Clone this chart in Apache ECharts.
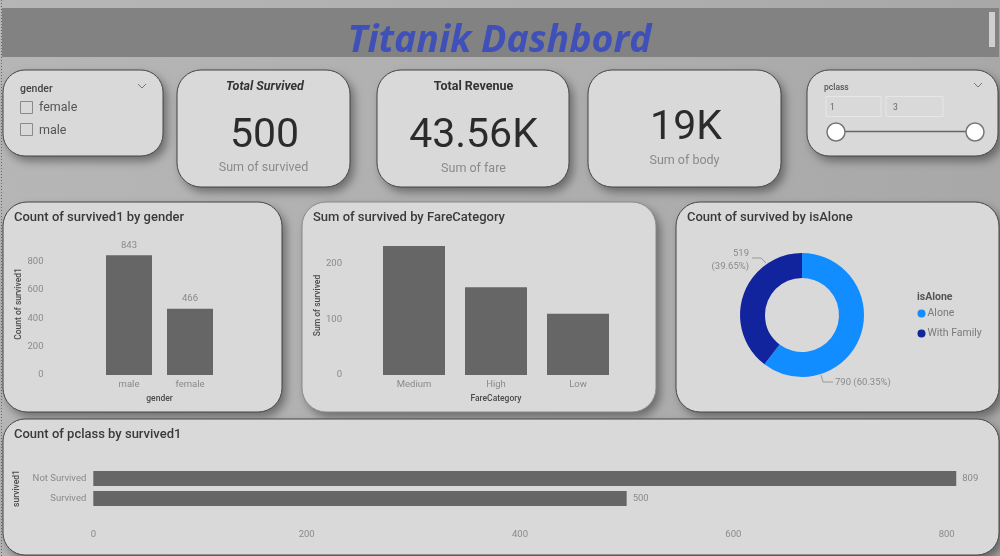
<!DOCTYPE html>
<html>
<head>
<meta charset="utf-8">
<style>
  html, body { margin: 0; padding: 0; background: #aaa; }
  #main { width: 1000px; height: 556px; }
</style>
<script src="https://cdn.jsdelivr.net/npm/echarts@6/dist/echarts.min.js"></script>
</head>
<body>
<div id="main"></div>
<script>
// chart data
const genderCats = ['male', 'female'];
const genderVals = [843, 466];
const fareCats = ['Medium', 'High', 'Low'];
const fareVals = [232, 158, 110];
const aloneCats = ['Alone', 'With Family'];
const aloneVals = [790, 519];
const aloneColors = ['#118dff', '#12239e'];
const pclassCats = ['Not Survived', 'Survived'];
const pclassVals = [809, 500];

const FONT = 'Roboto';
const axisGrey = '#8a8a8a';
const nameGrey = '#4a4a4a';
const titleGrey = '#3a3a3a';
const barGrey = '#666666';

var chart = echarts.init(document.getElementById('main'), null, { renderer: 'canvas' });

// shadow goes on its own rect, otherwise the stroke throws it over the fill
function card(x, y, w, h, r, stroke) {
    return [{
        type: 'rect',
        shape: { x: x, y: y, width: w, height: h, r: r },
        style: {
            fill: '#d9d9d9',
            shadowBlur: 10,
            shadowOffsetX: 4,
            shadowOffsetY: 5,
            shadowColor: 'rgba(0,0,0,0.4)'
        }
    }, {
        type: 'rect',
        shape: { x: x, y: y, width: w, height: h, r: r },
        style: { fill: '#d9d9d9', stroke: stroke || '#444444', lineWidth: 1 }
    }];
}

function label(text, x, y, size, color, extra) {
    return {
        type: 'text',
        z: 5,
        style: Object.assign({
            text: text,
            x: x,
            y: y,
            fontFamily: FONT,
            fontSize: size,
            fill: color,
            align: 'left',
            verticalAlign: 'middle'
        }, extra || {})
    };
}

function chevron(x, y) {
    return {
        type: 'polyline',
        z: 5,
        shape: { points: [[x - 4, y - 2], [x, y + 2], [x + 4, y - 2]] },
        style: { stroke: '#777777', lineWidth: 1, fill: 'none' }
    };
}

function box(x, y, w, h, stroke) {
    return {
        type: 'rect',
        z: 5,
        shape: { x: x, y: y, width: w, height: h },
        style: { fill: 'none', stroke: stroke, lineWidth: 1 }
    };
}

function knob(x, y) {
    return {
        type: 'circle',
        z: 6,
        shape: { cx: x, cy: y, r: 9 },
        style: { fill: '#ffffff', stroke: '#777777', lineWidth: 1.5 }
    };
}

var graphics = [
    // page background and header band
    { type: 'rect', shape: { x: 0, y: 0, width: 1000, height: 556 },
      style: { fill: new echarts.graphic.LinearGradient(0, 0, 1, 0, [
          { offset: 0, color: '#b6b6b6' }, { offset: 1, color: '#a8a8a8' }]) } },
    { type: 'rect', shape: { x: 2, y: 8, width: 997, height: 49 }, style: { fill: '#828282' } },
    { type: 'rect', shape: { x: 989, y: 12, width: 6, height: 35 }, style: { fill: '#cfcfcf' } },
    { type: 'line', shape: { x1: 1.5, y1: 0, x2: 1.5, y2: 556 },
      style: { stroke: '#666666', lineWidth: 1, lineDash: [1, 2] }, z: 7 },
    label('Titanik Dashbord', 499.5, 41, 37.5, '#3f51b8',
        { align: 'center', fontFamily: 'Open Sans', fontWeight: 'bold', fontStyle: 'italic' })
].concat(
    card(3, 70, 160, 86, 22),
    card(177, 70, 173, 117, 24),
    card(377, 70, 192, 117, 24),
    card(588, 70, 193, 117, 24),
    card(807, 70, 191, 86, 22),
    card(3, 202, 279, 210, 24),
    card(302, 202, 354, 210, 24, '#888888'),
    card(676, 202, 323, 210, 24),
    card(3, 419, 996, 136, 22),
[
    // gender slicer
    label('gender', 20, 89, 10.5, '#444444', { fontWeight: 500 }),
    chevron(142, 86),
    box(20.5, 101.5, 12, 12, '#8a8a8a'),
    box(20.5, 123.5, 12, 12, '#8a8a8a'),
    label('female', 39, 108, 12.5, '#555555'),
    label('male', 39, 131, 12.5, '#555555'),

    // KPI cards
    label('Total Survived', 265, 87, 12.5, '#333333', { align: 'center', fontWeight: 'bold', fontStyle: 'italic' }),
    label('500', 264.5, 137, 41, '#2b2b2b', { align: 'center' }),
    label('Sum of survived', 263.5, 167.5, 12.5, '#8a8a8a', { align: 'center' }),
    label('Total Revenue', 473.5, 87, 12.5, '#333333', { align: 'center', fontWeight: 'bold' }),
    label('43.56K', 473.5, 137, 41, '#2b2b2b', { align: 'center' }),
    label('Sum of fare', 473.5, 168.5, 12.5, '#8a8a8a', { align: 'center' }),
    label('19K', 686, 129, 41, '#2b2b2b', { align: 'center' }),
    label('Sum of body', 684.5, 160.5, 12.5, '#8a8a8a', { align: 'center' }),

    // pclass slicer
    label('pclass', 824, 88, 8.5, '#555555', { fontWeight: 500 }),
    chevron(978, 85),
    box(826, 96.5, 55, 20, '#e6e6e6'),
    box(886, 96.5, 57, 20, '#e6e6e6'),
    label('1', 830, 108, 8.5, '#666666'),
    label('3', 893, 108, 8.5, '#666666'),
    { type: 'line', z: 5, shape: { x1: 836, y1: 131.5, x2: 975, y2: 131.5 },
      style: { stroke: '#666666', lineWidth: 1.5 } },
    knob(836, 132),
    knob(975, 132),

    // chart titles
    label('Count of survived1 by gender', 14, 218, 13, titleGrey, { fontWeight: 500 }),
    label('Sum of survived by FareCategory', 313, 218, 13, titleGrey, { fontWeight: 500 }),
    label('Count of survived by isAlone', 687, 218, 13, titleGrey, { fontWeight: 500 }),
    label('Count of pclass by survived1', 14, 435, 13, titleGrey, { fontWeight: 500 }),
    label('isAlone', 917, 297, 10.5, '#555555', { fontWeight: 'bold' })
]);

var axisLabel = { color: axisGrey, fontFamily: FONT, fontSize: 9.5 };
var nameStyle = { color: nameGrey, fontFamily: FONT, fontSize: 8.5, fontWeight: 500 };

function barLabel(pos, dist) {
    return { show: true, position: pos, distance: dist, color: axisGrey, fontFamily: FONT, fontSize: 9.5 };
}

var option = {
    animation: false,
    backgroundColor: '#aaaaaa',
    graphic: { elements: graphics },
    grid: [
        { left: 98.5, width: 122, top: 233, height: 142 },
        { left: 373, width: 246, top: 236, height: 139 },
        { left: 93.3, width: 907, top: 468.5, height: 40 }
    ],
    xAxis: [{
        gridIndex: 0, type: 'category', data: genderCats,
        axisLine: { show: false }, axisTick: { show: false },
        axisLabel: Object.assign({ margin: 5 }, axisLabel),
        name: 'gender', nameLocation: 'middle', nameGap: 19, nameTextStyle: nameStyle
    }, {
        gridIndex: 1, type: 'category', data: fareCats,
        axisLine: { show: false }, axisTick: { show: false },
        axisLabel: Object.assign({ margin: 5 }, axisLabel),
        name: 'FareCategory', nameLocation: 'middle', nameGap: 19, nameTextStyle: nameStyle
    }, {
        gridIndex: 2, type: 'value', min: 0, max: 850, interval: 200,
        splitLine: { show: false }, axisLine: { show: false }, axisTick: { show: false },
        axisLabel: Object.assign({ margin: 21, showMaxLabel: false }, axisLabel)
    }],
    yAxis: [{
        gridIndex: 0, type: 'value', min: 0, max: 1000, interval: 200,
        splitLine: { show: false }, axisLine: { show: false }, axisTick: { show: false },
        axisLabel: Object.assign({ margin: 55, showMaxLabel: false, padding: [4, 0, 0, 0] }, axisLabel),
        name: 'Count of survived1', nameLocation: 'middle', nameGap: 75, nameRotate: 90,
        nameTextStyle: nameStyle
    }, {
        gridIndex: 1, type: 'value', min: 0, max: 250, interval: 100,
        splitLine: { show: false }, axisLine: { show: false }, axisTick: { show: false },
        axisLabel: Object.assign({ margin: 31, showMaxLabel: false, padding: [4, 0, 0, 0] }, axisLabel),
        name: 'Sum of survived', nameLocation: 'middle', nameGap: 50, nameRotate: 90,
        nameTextStyle: nameStyle
    }, {
        gridIndex: 2, type: 'category', data: pclassCats, inverse: true,
        axisLine: { show: false }, axisTick: { show: false },
        axisLabel: Object.assign({ margin: 7, padding: [4, 0, 0, 0] }, axisLabel),
        name: 'survived1', nameLocation: 'middle', nameGap: 70, nameRotate: 90,
        nameTextStyle: nameStyle
    }],
    legend: {
        orient: 'vertical', left: 912.5, top: 303, icon: 'circle',
        itemWidth: 8, itemHeight: 8, itemGap: 9, selectedMode: false,
        data: aloneCats,
        textStyle: { color: '#7a7a7a', fontFamily: FONT, fontSize: 10.5, padding: [0, 0, 0, -3] }
    },
    series: [{
        type: 'bar', xAxisIndex: 0, yAxisIndex: 0, data: genderVals, barWidth: 46,
        itemStyle: { color: barGrey }, label: barLabel('top', 5)
    }, {
        type: 'bar', xAxisIndex: 1, yAxisIndex: 1, data: fareVals, barWidth: 62,
        itemStyle: { color: barGrey }
    }, {
        type: 'bar', xAxisIndex: 2, yAxisIndex: 2, data: pclassVals, barWidth: 15,
        itemStyle: { color: barGrey }, label: barLabel('right', 6)
    }, {
        type: 'pie', center: [802, 315], radius: [37, 62], startAngle: 90, clockwise: true,
        percentPrecision: 2, avoidLabelOverlap: false,
        data: aloneCats.map(function (name, i) {
            return { name: name, value: aloneVals[i], itemStyle: { color: aloneColors[i] } };
        }),
        label: {
            show: true, position: 'outside', color: axisGrey, fontFamily: FONT, fontSize: 9.5, lineHeight: 13,
            formatter: function (p) {
                return p.dataIndex === 0
                    ? p.value + ' (' + p.percent.toFixed(2) + '%)'
                    : p.value + '\n(' + p.percent.toFixed(2) + '%)';
            }
        },
        labelLine: { show: true, lineStyle: { color: '#999999', width: 1 } },
        labelLayout: function (p) {
            return p.dataIndex === 0
                ? { x: 835, y: 383, align: 'left', verticalAlign: 'middle',
                    labelLinePoints: [[821, 375], [823, 382], [833, 382]] }
                : { x: 749, y: 260.5, align: 'right', verticalAlign: 'middle',
                    labelLinePoints: [[766, 263], [761, 258], [752, 258]] };
        }
    }]
};

chart.setOption(option);
</script>
</body>
</html>
